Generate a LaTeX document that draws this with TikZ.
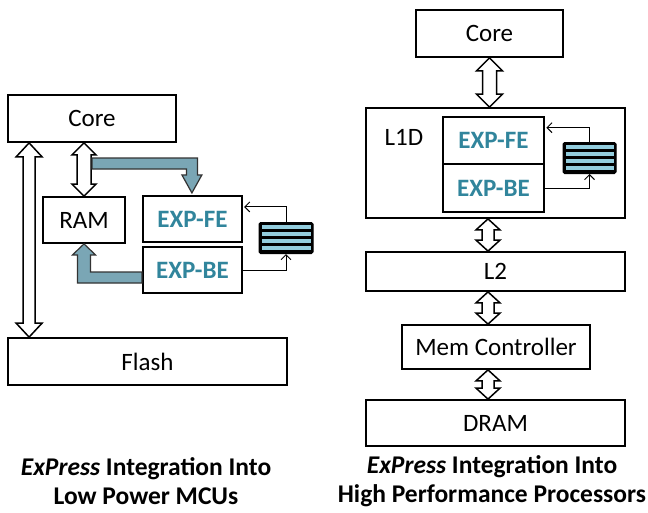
\documentclass[tikz,border=0pt]{standalone}
\usepackage{fontspec}
\setmainfont{Carlito}
\usetikzlibrary{arrows.meta,calc}

\definecolor{expteal}{RGB}{49,133,156}
\definecolor{flowteal}{RGB}{122,166,181}
\definecolor{qblue}{RGB}{147,205,221}

% hollow double-headed block arrow between two points (top, bottom)
% #3 shaft half width, #4 head half width, #5 head length
\newcommand\hollowdbl[5]{%
  \draw[hollowarrow] let \p1=(#1), \p2=(#2) in
    (\x1,\y1) -- (\x1+#4,\y1-#5) -- (\x1+#3,\y1-#5) -- (\x1+#3,\y2+#5)
    -- (\x1+#4,\y2+#5) -- (\x1,\y2) -- (\x1-#4,\y2+#5) -- (\x1-#3,\y2+#5)
    -- (\x1-#3,\y1-#5) -- (\x1-#4,\y1-#5) -- cycle;}

% queue symbol: black body with four light stripes
\newcommand\queuestripes[1]{%
  \foreach \k in {0,...,3}
    \fill[qblue] ($(#1.north west)+(3pt,-3.2pt-7*\k pt)$)
      rectangle ($(#1.north east)+(-3pt,-7.2pt-7*\k pt)$);}

\tikzset{
  box/.style={draw, line width=1.8pt, rectangle, inner sep=0pt,
    font=\fontsize{25}{29}\selectfont},
  expbox/.style={box, line width=2.2pt, text=expteal, font=\fontsize{25}{29}\selectfont\bfseries},
  queue/.style={draw, fill=black, line width=1pt, rounded corners=1.5pt,
    minimum width=54pt, minimum height=31pt, inner sep=0pt},
  hollowarrow/.style={draw, fill=white, line width=1.5pt, line join=miter},
  flow/.style={draw=black!80, fill=flowteal, line width=1.2pt, line join=miter},
  feed/.style={line width=1pt, -{Straight Barb[length=5pt,width=10pt]}},
  caption/.style={align=center, font=\fontsize{25.5}{29}\selectfont\bfseries}
}

\begin{document}
\begin{tikzpicture}[x=1pt,y=-1pt]
\useasboundingbox (0,0) rectangle (648,512);

% ---------------- low power MCU ----------------
\node[box, minimum width=168pt, minimum height=47pt] (coreL) at (92,118.5) {Core};
\node[box, minimum width=82pt, minimum height=46pt] (ram) at (84,220) {RAM};
\node[expbox, minimum width=99pt, minimum height=46pt] (feL) at (192.5,219) {EXP-FE};
\node[expbox, minimum width=99pt, minimum height=46pt] (beL) at (192.5,270) {EXP-BE};
\node[queue, minimum width=54pt] (qL) at (286,238) {};
\queuestripes{qL}
\node[box, minimum width=279pt, minimum height=47pt] (flash) at (147.5,361.5) {Flash};

\coordinate (busL) at ($(coreL.south west)+(22,0)$);
\hollowdbl{busL}{flash.north -| busL}{6pt}{13pt}{14pt}
\hollowdbl{coreL.south -| ram.north}{ram.north}{7pt}{12pt}{12pt}

% request path core -> EXP-FE
\coordinate (fromCore) at (92,163.5);
\coordinate (intoFE) at ($(feL.north west)+(50,-2)$);
\draw[flow] let \p1=(fromCore), \p2=(intoFE) in
  (\x1,\y1+5.5pt) -- (\x2+5.5pt,\y1+5.5pt) -- (\x2+5.5pt,\y2+18pt)
  -- (\x2+10pt,\y2+18pt) -- (\x2,\y2) -- (\x2-10pt,\y2+18pt)
  -- (\x2-5.5pt,\y2+18pt) -- (\x2-5.5pt,\y1-5.5pt) -- (\x1,\y1-5.5pt) -- cycle;

% write-back path EXP-BE -> RAM
\coordinate (fromBE) at ($(beL.west)+(0,7.5)$);
\draw[flow] let \p1=(fromBE), \p2=(ram.south) in
  (\x1,\y1+5.5pt) -- (\x2+6.5pt,\y1+5.5pt) -- (\x2+6.5pt,\y2-11pt)
  -- (\x2+11.5pt,\y2-11pt) -- (\x2,\y2) -- (\x2-11.5pt,\y2-11pt)
  -- (\x2-6.5pt,\y2-11pt) -- (\x2-6.5pt,\y1-5.5pt) -- (\x1,\y1-5.5pt) -- cycle;

\coordinate (feLin) at ($(feL.north east)+(1,12)$);
\draw[feed] (qL.north) |- (feLin);
\draw[feed] (beL.east) -| (qL.south);

\node[caption] (capL) at (146,481.5) {\textit{ExPress} Integration Into\\Low Power MCUs};

% ---------------- high performance processor ----------------
\node[box, minimum width=147pt, minimum height=47pt] (coreR) at (489.5,33.5) {Core};
\node[box, minimum width=259pt, minimum height=110pt] (l1d) at (495.5,163) {};
\node[anchor=base, font=\fontsize{25}{29}\selectfont] (l1dlab) at (404,145) {L1D};
\node[expbox, line width=2.6pt, minimum width=101pt, minimum height=47pt] (feR) at (493.5,140.5) {EXP-FE};
\node[expbox, line width=2.6pt, minimum width=101pt, minimum height=48pt] (beR) at (493.5,188) {EXP-BE};
\node[queue, minimum width=53pt] (qR) at (589.5,158) {};
\queuestripes{qR}
\node[box, minimum width=259pt, minimum height=39pt] (l2) at (495.5,271.5) {L2};
\node[box, minimum width=188pt, minimum height=44pt] (mem) at (496,347) {Mem Controller};
\node[box, minimum width=259pt, minimum height=46pt] (dram) at (495.5,423) {DRAM};

\coordinate (busR) at (488,0);
\hollowdbl{coreR.south}{l1d.north -| coreR.south}{7pt}{13pt}{13pt}
\hollowdbl{l1d.south -| busR}{l2.north -| busR}{6pt}{12pt}{11pt}
\hollowdbl{l2.south -| busR}{mem.north -| busR}{6pt}{12pt}{11pt}
\hollowdbl{mem.south -| busR}{dram.north -| busR}{6pt}{12pt}{11pt}

\coordinate (feRin) at ($(feR.north east)+(1,12)$);
\draw[feed] (qR.north) |- (feRin);
\draw[feed] (beR.east) -| (qR.south);

\node[caption] (capR) at (492,481.5) {\textit{ExPress} Integration Into\\High Performance Processors};
\end{tikzpicture}
\end{document}
